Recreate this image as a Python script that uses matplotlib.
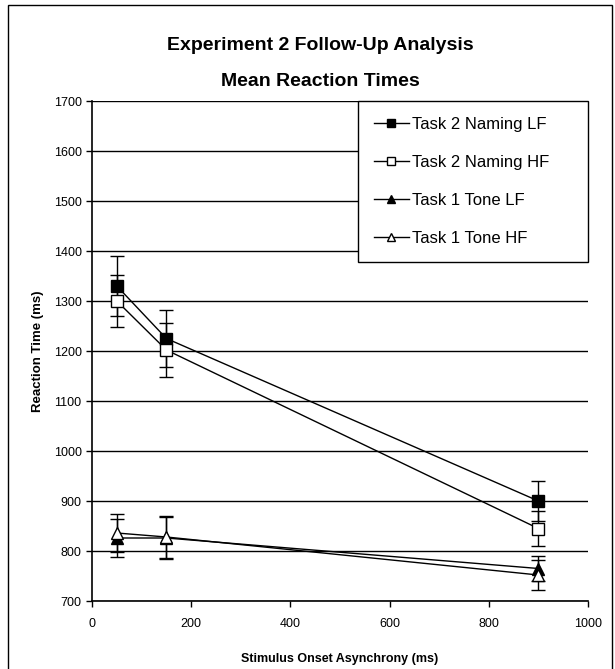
import matplotlib.pyplot as plt
from matplotlib.patches import Rectangle

plt.rcParams['font.family'] = ['Liberation Sans', 'DejaVu Sans']

# stimulus onset asynchrony (ms)
soa = [50, 150, 900]

naming_lf = [1330, 1225, 900]
naming_lf_err = [60, 57, 40]
naming_hf = [1300, 1202, 845]
naming_hf_err = [52, 54, 35]
tone_lf = [826, 826, 765]
tone_lf_err = [38, 42, 25]
tone_hf = [836, 828, 752]
tone_hf_err = [38, 42, 30]

labels = ["Task 2 Naming LF", "Task 2 Naming HF", "Task 1 Tone LF", "Task 1 Tone HF"]

fig = plt.figure(figsize=(6.15, 6.69), dpi=100)
ax = fig.add_axes([92/615, 1-601/669, (588-92)/615, 500/669])

series = [(naming_lf, naming_lf_err, 's', 'black'),
          (naming_hf, naming_hf_err, 's', 'white'),
          (tone_lf, tone_lf_err, '^', 'black'),
          (tone_hf, tone_hf_err, '^', 'white')]

handles = []
for (vals, errs, mk, fc), lab in zip(series, labels):
    ax.errorbar(soa, vals, yerr=errs, fmt='none', ecolor='black', elinewidth=1, capsize=5, capthick=1, zorder=2)
    h, = ax.plot(soa, vals, color='black', lw=1, marker=mk, markersize=9,
                 markerfacecolor=fc, markeredgecolor='black', markeredgewidth=1, label=lab, zorder=3)
    handles.append(h)

ax.set_xlim(0, 1000)
ax.set_ylim(700, 1700)
ax.set_xticks(range(0, 1001, 200))
ax.set_yticks(range(700, 1701, 100))
ax.yaxis.grid(True, color='black', lw=1)
ax.set_axisbelow(True)
ax.tick_params(direction='out', length=4, width=1, labelsize=9, colors='black')
ax.tick_params(axis='x', pad=8)
for s in ['top', 'right']:
    ax.spines[s].set_visible(False)
for s in ['left', 'bottom']:
    ax.spines[s].set_linewidth(1.2)

ax.set_xlabel("Stimulus Onset Asynchrony (ms)", fontsize=9, fontweight='bold', labelpad=17)
ax.set_ylabel("Reaction Time (ms)", fontsize=9.5, fontweight='bold', labelpad=7)

leg = ax.legend(handles=handles, loc='upper left', bbox_to_anchor=(266/496, 0, 230/496, 1.0),
                mode='expand', fontsize=12, frameon=True, fancybox=False, edgecolor='black',
                borderpad=0.95, labelspacing=1.38, handlelength=2.1, handletextpad=0.2,
                borderaxespad=0, framealpha=1)
for hh in leg.legend_handles:
    hh.set_markersize(6)
leg.get_frame().set_linewidth(1)

fig.text(320/615, 1-46/669, "Experiment 2 Follow-Up Analysis", ha='center', va='center',
         fontsize=14, fontweight='bold')
fig.text(320/615, 1-81/669, "Mean Reaction Times", ha='center', va='center',
         fontsize=14, fontweight='bold')

fig.patches.append(Rectangle((8/615, -0.02), (612-8)/615, 1.02-5/669, transform=fig.transFigure,
                             fill=False, edgecolor='black', lw=1))

fig.savefig("out.png", dpi=100)
